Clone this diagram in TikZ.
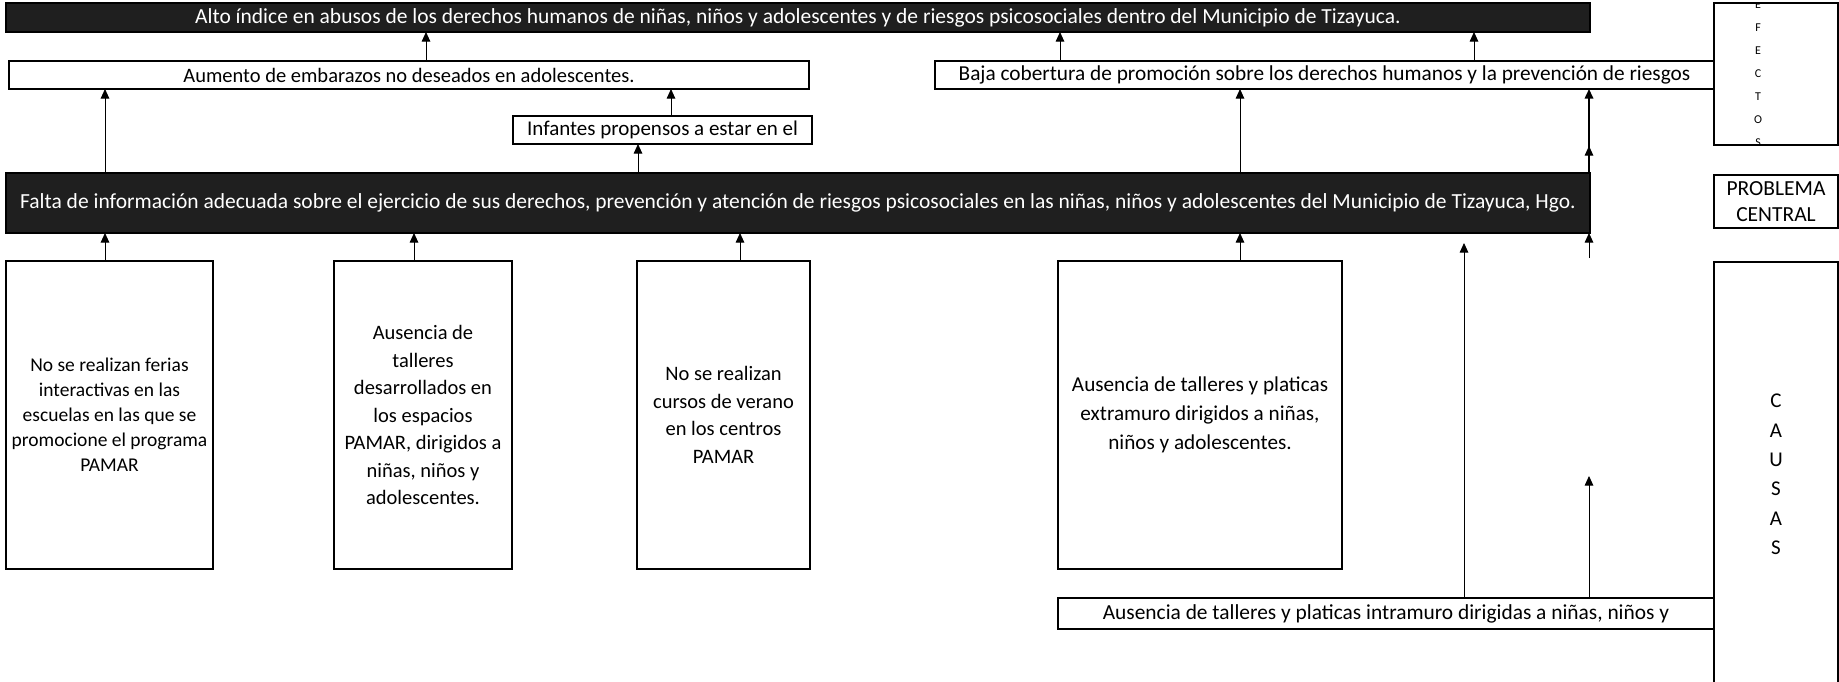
\documentclass[tikz,border=0pt]{standalone}
\usepackage{fontspec}
\setmainfont{Carlito}
\usetikzlibrary{arrows.meta}
\begin{document}
\begin{tikzpicture}[x=1pt,y=-1pt,
  every node/.style={inner sep=0pt, outer sep=0pt},
  box/.style={draw=black, fill=white, align=center},
  effbox/.style={box, line width=1.6pt, font=\fontsize{20.5}{24}\selectfont},
  causebox/.style={box, line width=2.6pt, font=\fontsize{20.5}{27.5}\selectfont},
  darkbox/.style={draw=black, line width=1.5pt, fill=black!88, text=white, font=\fontsize{21.5}{24}\selectfont},
  sidebox/.style={draw=black, line width=2.2pt, fill=white},
  sidetext/.style={align=center, font=\fontsize{21}{29.4}\selectfont},
  arr/.style={-{Triangle[length=9.5pt,width=8.5pt]}, line width=0.9pt},
]
\useasboundingbox (0,0) rectangle (1839,681);

% ---------- right column ----------
\node[sidebox, minimum width=124pt, minimum height=142pt] (efectos) at (1776,74) {};
\begin{scope}
  \clip (1714,3) rectangle (1838,145);
  \node[align=center, font=\fontsize{12}{23}\selectfont] (efectostxt) at (1758,74) {E\\F\\E\\C\\T\\O\\S};
\end{scope}
\node[sidebox, minimum width=124pt, minimum height=53pt, align=center, font=\fontsize{21.5}{26}\selectfont] (central) at (1776,201.5) {PROBLEMA\\CENTRAL};
\node[sidebox, minimum width=124pt, minimum height=440pt] (causas) at (1776,482) {};
\node[sidetext] (causastxt) at (1776,474.5) {C\\A\\U\\S\\A\\S};

% ---------- effects ----------
\node[darkbox, minimum width=1584pt, minimum height=29pt] (top) at (798,17.5)
  {Alto índice en abusos de los derechos humanos de niñas, niños y adolescentes y de riesgos psicosociales dentro del Municipio de Tizayuca.};
\node[effbox, minimum width=800pt, minimum height=28pt] (aumento) at (409,75)
  {Aumento de embarazos no deseados en adolescentes.};
\node[effbox, minimum width=779pt, minimum height=28pt, font=\fontsize{21.3}{24}\selectfont] (baja) at (1324.5,75)
  {Baja cobertura de promoción sobre los derechos humanos y la prevención de riesgos};
\node[effbox, minimum width=299pt, minimum height=28pt, font=\fontsize{21}{24}\selectfont] (infantes) at (662.5,130)
  {Infantes propensos a estar en el};

% ---------- central problem ----------
\node[darkbox, minimum width=1584pt, minimum height=60pt] (problem) at (798,203)
  {Falta de información adecuada sobre el ejercicio de sus derechos, prevención y atención de riesgos psicosociales en las niñas, niños y adolescentes del Municipio de Tizayuca, Hgo.};

% ---------- causes ----------
\node[causebox, minimum width=207pt, minimum height=308pt, font=\fontsize{19.5}{25}\selectfont] (box1) at (109.5,415)
  {No se realizan ferias\\interactivas en las\\escuelas en las que se\\promocione el programa\\PAMAR};
\node[causebox, minimum width=178pt, minimum height=308pt] (box2) at (423,415)
  {Ausencia de\\talleres\\desarrollados en\\los espacios\\PAMAR, dirigidos a\\niñas, niños y\\adolescentes.};
\node[causebox, minimum width=173pt, minimum height=308pt] (box3) at (723.5,415)
  {No se realizan\\cursos de verano\\en los centros\\PAMAR};
\node[causebox, minimum width=284pt, minimum height=308pt, font=\fontsize{21.2}{29}\selectfont] (box4) at (1200,415)
  {Ausencia de talleres y platicas\\extramuro dirigidos a niñas,\\niños y adolescentes.};
\node[causebox, line width=2pt, minimum width=656pt, minimum height=31pt, font=\fontsize{21.4}{25}\selectfont] (intra) at (1386,613.5)
  {Ausencia de talleres y platicas intramuro dirigidas a niñas, niños y};

% ---------- columns for connectors ----------
\coordinate (cA) at (105,0);
\coordinate (cB) at (426,0);
\coordinate (cC) at (671,0);
\coordinate (cD) at (638,0);
\coordinate (cE) at (414,0);
\coordinate (cF) at (740,0);
\coordinate (cG) at (1240,0);
\coordinate (cH) at (1060,0);
\coordinate (cI) at (1474,0);
\coordinate (cJ) at (1589,0);
\coordinate (cK) at (1464,0);
\coordinate (jmid) at (1589,146);
\coordinate (kend) at (1464,243);
\coordinate (jlow) at (1589,476);
\coordinate (jstub) at (1589,258);

% effects to top
\draw[arr] (aumento.north -| cB) -- (top.south -| cB);
\draw[arr] (baja.north -| cH) -- (top.south -| cH);
\draw[arr] (baja.north -| cI) -- (top.south -| cI);
% problem to effects
\draw[arr] (problem.north -| cA) -- (aumento.south -| cA);
\draw[arr] (infantes.north -| cC) -- (aumento.south -| cC);
\draw[arr] (problem.north -| cD) -- (infantes.south -| cD);
\draw[arr] (problem.north -| cG) -- (baja.south -| cG);
\draw[arr, line width=1.6pt] (problem.north -| cJ) -- (baja.south -| cJ);
\draw[arr] (problem.north -| cJ) -- (jmid);
% causes to problem
\draw[arr] (box1.north -| cA) -- (problem.south -| cA);
\draw[arr] (box2.north -| cE) -- (problem.south -| cE);
\draw[arr] (box3.north -| cF) -- (problem.south -| cF);
\draw[arr] (box4.north -| cG) -- (problem.south -| cG);
\draw[arr] (intra.north -| cK) -- (kend);
\draw[arr] (intra.north -| cJ) -- (jlow);
\draw[arr] (jstub) -- (problem.south -| cJ);
\end{tikzpicture}
\end{document}
